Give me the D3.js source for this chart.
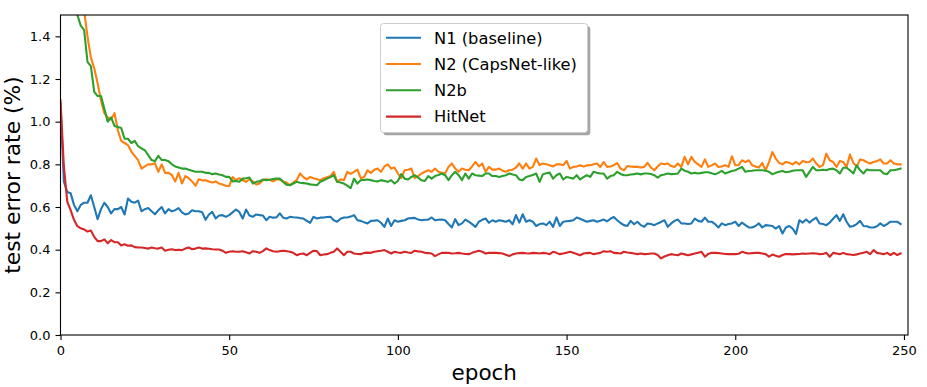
<!DOCTYPE html>
<html>
<head>
<meta charset="utf-8">
<script src="https://cdn.jsdelivr.net/npm/d3@7"></script>
<style>
  html, body { margin: 0; padding: 0; background: #fff; }
  svg { display: block; font-family: "DejaVu Sans", sans-serif; }
  .tick text { font-size: 13px; fill: #000; }
  .tick line, .domain { stroke: #000; }
</style>
</head>
<body>
<div id="chart"></div>
<script>
// Test error rate per epoch.
const xTicks = [0, 50, 100, 150, 200, 250];
const yTicks = [0.0, 0.2, 0.4, 0.6, 0.8, 1.0, 1.2, 1.4];

const n1 = [
  1.08, 0.72, 0.67, 0.665, 0.61, 0.58, 0.61, 0.62, 0.62, 0.655,
  0.60, 0.543, 0.59, 0.62, 0.60, 0.57, 0.59, 0.59, 0.60, 0.565,
  0.64, 0.625, 0.62, 0.63, 0.58, 0.59, 0.595, 0.58, 0.566, 0.585,
  0.60, 0.57, 0.59, 0.58, 0.585, 0.595, 0.575, 0.565, 0.57, 0.585,
  0.58, 0.58, 0.575, 0.54, 0.565, 0.577, 0.546, 0.56, 0.562, 0.554,
  0.562, 0.575, 0.588, 0.577, 0.546, 0.588, 0.56, 0.554, 0.565, 0.562,
  0.56, 0.538, 0.554, 0.55, 0.551, 0.57, 0.55, 0.546, 0.554, 0.552,
  0.551, 0.548, 0.546, 0.535, 0.526, 0.554, 0.546, 0.55, 0.551, 0.553,
  0.554, 0.538, 0.531, 0.545, 0.551, 0.551, 0.555, 0.562, 0.538, 0.535,
  0.528, 0.523, 0.535, 0.536, 0.538, 0.526, 0.507, 0.546, 0.511, 0.538,
  0.531, 0.535, 0.538, 0.546, 0.548, 0.549, 0.541, 0.538, 0.54, 0.541,
  0.551, 0.538, 0.54, 0.541, 0.538, 0.52, 0.504, 0.543, 0.515, 0.523,
  0.541, 0.531, 0.52, 0.507, 0.531, 0.54, 0.546, 0.526, 0.538, 0.531,
  0.538, 0.535, 0.531, 0.538, 0.519, 0.562, 0.527, 0.566, 0.531, 0.538,
  0.531, 0.511, 0.52, 0.523, 0.515, 0.531, 0.507, 0.551, 0.511, 0.531,
  0.533, 0.535, 0.538, 0.551, 0.545, 0.538, 0.531, 0.535, 0.538, 0.531,
  0.536, 0.541, 0.533, 0.545, 0.553, 0.538, 0.525, 0.515, 0.511, 0.535,
  0.519, 0.531, 0.515, 0.507, 0.523, 0.52, 0.515, 0.523, 0.53, 0.538,
  0.507, 0.523, 0.535, 0.541, 0.523, 0.523, 0.52, 0.523, 0.546, 0.535,
  0.531, 0.55, 0.531, 0.531, 0.52, 0.504, 0.523, 0.515, 0.52, 0.523,
  0.531, 0.511, 0.527, 0.515, 0.504, 0.504, 0.511, 0.523, 0.504, 0.515,
  0.513, 0.511, 0.499, 0.511, 0.476, 0.504, 0.511, 0.499, 0.474, 0.538,
  0.527, 0.541, 0.527, 0.54, 0.55, 0.523, 0.52, 0.515, 0.527, 0.545,
  0.562, 0.535, 0.566, 0.531, 0.507, 0.511, 0.52, 0.535, 0.511, 0.51,
  0.504, 0.504, 0.51, 0.523, 0.511, 0.52, 0.531, 0.531, 0.531, 0.52,
];

const n2 = [
  3.2, 2.4, 2.0, 1.85, 1.75, 1.68, 1.60, 1.52, 1.40, 1.30,
  1.25, 1.18, 1.10, 1.04, 1.02, 1.01, 1.04, 0.96, 0.91, 0.90,
  0.89, 0.86, 0.84, 0.82, 0.78, 0.79, 0.80, 0.80, 0.805, 0.765,
  0.80, 0.76, 0.76, 0.75, 0.72, 0.76, 0.71, 0.745, 0.735, 0.72,
  0.70, 0.73, 0.725, 0.725, 0.72, 0.715, 0.72, 0.71, 0.705, 0.70,
  0.698, 0.74, 0.726, 0.735, 0.725, 0.718, 0.73, 0.72, 0.705, 0.71,
  0.725, 0.73, 0.728, 0.72, 0.73, 0.728, 0.72, 0.715, 0.702, 0.715,
  0.726, 0.757, 0.74, 0.729, 0.741, 0.735, 0.73, 0.725, 0.735, 0.74,
  0.745, 0.765, 0.718, 0.73, 0.726, 0.765, 0.755, 0.765, 0.775, 0.735,
  0.741, 0.772, 0.76, 0.775, 0.78, 0.765, 0.79, 0.80, 0.78, 0.785,
  0.757, 0.735, 0.772, 0.775, 0.78, 0.735, 0.745, 0.757, 0.765, 0.772,
  0.765, 0.78, 0.765, 0.76, 0.757, 0.788, 0.804, 0.78, 0.765, 0.78,
  0.775, 0.772, 0.79, 0.811, 0.79, 0.804, 0.765, 0.788, 0.775, 0.775,
  0.78, 0.77, 0.765, 0.772, 0.775, 0.785, 0.804, 0.78, 0.804, 0.78,
  0.788, 0.827, 0.796, 0.804, 0.80, 0.796, 0.79, 0.80, 0.80, 0.796,
  0.816, 0.78, 0.788, 0.79, 0.796, 0.79, 0.795, 0.796, 0.80, 0.804,
  0.788, 0.811, 0.788, 0.79, 0.796, 0.806, 0.78, 0.772, 0.792, 0.79,
  0.788, 0.788, 0.785, 0.788, 0.807, 0.785, 0.772, 0.79, 0.804, 0.80,
  0.804, 0.792, 0.788, 0.804, 0.788, 0.835, 0.80, 0.835, 0.811, 0.80,
  0.788, 0.823, 0.788, 0.795, 0.804, 0.788, 0.79, 0.796, 0.788, 0.838,
  0.796, 0.796, 0.819, 0.81, 0.819, 0.796, 0.79, 0.785, 0.807, 0.772,
  0.81, 0.858, 0.827, 0.807, 0.80, 0.811, 0.807, 0.80, 0.811, 0.80,
  0.816, 0.81, 0.811, 0.827, 0.804, 0.788, 0.796, 0.85, 0.819, 0.811,
  0.788, 0.816, 0.811, 0.788, 0.846, 0.807, 0.788, 0.823, 0.819, 0.81,
  0.804, 0.811, 0.815, 0.823, 0.804, 0.804, 0.819, 0.804, 0.80, 0.80,
];

const n2b = [
  3.0, 2.4, 2.0, 1.8, 1.62, 1.50, 1.45, 1.43, 1.28, 1.26,
  1.14, 1.12, 1.12, 1.06, 1.00, 1.02, 0.98, 0.975, 0.97, 0.92,
  0.92, 0.90, 0.91, 0.885, 0.875, 0.866, 0.843, 0.82, 0.815, 0.84,
  0.82, 0.82, 0.815, 0.80, 0.79, 0.785, 0.78, 0.78, 0.775, 0.77,
  0.765, 0.765, 0.765, 0.76, 0.76, 0.754, 0.757, 0.752, 0.749, 0.741,
  0.741, 0.72, 0.722, 0.718, 0.733, 0.735, 0.738, 0.71, 0.718, 0.72,
  0.729, 0.726, 0.728, 0.731, 0.733, 0.733, 0.718, 0.705, 0.702, 0.71,
  0.718, 0.714, 0.712, 0.71, 0.706, 0.704, 0.702, 0.718, 0.725, 0.733,
  0.74, 0.749, 0.718, 0.715, 0.71, 0.70, 0.688, 0.733, 0.71, 0.726,
  0.727, 0.729, 0.726, 0.722, 0.72, 0.726, 0.722, 0.718, 0.726, 0.71,
  0.722, 0.754, 0.733, 0.729, 0.741, 0.749, 0.738, 0.725, 0.722, 0.745,
  0.733, 0.745, 0.75, 0.757, 0.749, 0.726, 0.749, 0.765, 0.749, 0.726,
  0.757, 0.733, 0.757, 0.749, 0.747, 0.745, 0.757, 0.757, 0.745, 0.745,
  0.741, 0.745, 0.749, 0.757, 0.752, 0.749, 0.729, 0.726, 0.741, 0.745,
  0.75, 0.757, 0.718, 0.754, 0.758, 0.761, 0.733, 0.749, 0.757, 0.729,
  0.741, 0.737, 0.733, 0.749, 0.729, 0.74, 0.749, 0.741, 0.765, 0.76,
  0.757, 0.757, 0.733, 0.745, 0.749, 0.765, 0.755, 0.749, 0.749, 0.752,
  0.754, 0.757, 0.753, 0.757, 0.757, 0.755, 0.749, 0.738, 0.749, 0.752,
  0.757, 0.754, 0.755, 0.757, 0.78, 0.77, 0.765, 0.757, 0.761, 0.757,
  0.76, 0.763, 0.763, 0.758, 0.754, 0.76, 0.769, 0.757, 0.763, 0.769,
  0.772, 0.78, 0.788, 0.765, 0.769, 0.77, 0.772, 0.772, 0.772, 0.77,
  0.765, 0.754, 0.76, 0.765, 0.769, 0.763, 0.765, 0.77, 0.772, 0.772,
  0.772, 0.741, 0.765, 0.788, 0.772, 0.772, 0.775, 0.772, 0.778, 0.78,
  0.772, 0.757, 0.784, 0.784, 0.772, 0.757, 0.795, 0.772, 0.757, 0.776,
  0.772, 0.772, 0.772, 0.772, 0.757, 0.754, 0.772, 0.772, 0.776, 0.78,
];

const hitnet = [
  1.10, 0.79, 0.625, 0.585, 0.54, 0.51, 0.50, 0.495, 0.485, 0.49,
  0.46, 0.44, 0.44, 0.448, 0.43, 0.445, 0.435, 0.435, 0.42, 0.425,
  0.418, 0.42, 0.412, 0.41, 0.41, 0.408, 0.405, 0.41, 0.407, 0.405,
  0.41, 0.395, 0.40, 0.402, 0.398, 0.40, 0.398, 0.405, 0.41, 0.402,
  0.405, 0.41, 0.405, 0.406, 0.404, 0.402, 0.401, 0.401, 0.395, 0.385,
  0.39, 0.393, 0.39, 0.39, 0.393, 0.388, 0.382, 0.393, 0.39, 0.385,
  0.393, 0.406, 0.398, 0.393, 0.39, 0.393, 0.395, 0.393, 0.39, 0.385,
  0.374, 0.38, 0.382, 0.374, 0.385, 0.395, 0.393, 0.374, 0.377, 0.379,
  0.385, 0.39, 0.406, 0.39, 0.374, 0.39, 0.39, 0.382, 0.38, 0.379,
  0.385, 0.386, 0.385, 0.39, 0.393, 0.395, 0.398, 0.39, 0.382, 0.39,
  0.387, 0.385, 0.39, 0.387, 0.385, 0.395, 0.392, 0.39, 0.385, 0.384,
  0.382, 0.37, 0.378, 0.385, 0.385, 0.385, 0.382, 0.383, 0.385, 0.382,
  0.38, 0.379, 0.385, 0.39, 0.395, 0.39, 0.382, 0.385, 0.385, 0.385,
  0.384, 0.382, 0.376, 0.37, 0.378, 0.382, 0.384, 0.385, 0.383, 0.382,
  0.385, 0.384, 0.382, 0.385, 0.383, 0.379, 0.39, 0.385, 0.379, 0.382,
  0.386, 0.39, 0.385, 0.38, 0.374, 0.382, 0.384, 0.385, 0.379, 0.382,
  0.385, 0.393, 0.39, 0.393, 0.385, 0.384, 0.382, 0.39, 0.387, 0.385,
  0.382, 0.379, 0.382, 0.379, 0.38, 0.382, 0.382, 0.375, 0.359, 0.368,
  0.374, 0.379, 0.376, 0.374, 0.382, 0.378, 0.374, 0.378, 0.382, 0.386,
  0.39, 0.367, 0.38, 0.385, 0.385, 0.384, 0.382, 0.38, 0.379, 0.379,
  0.379, 0.381, 0.39, 0.385, 0.382, 0.384, 0.385, 0.385, 0.382, 0.379,
  0.367, 0.377, 0.372, 0.367, 0.375, 0.38, 0.379, 0.378, 0.379, 0.38,
  0.382, 0.381, 0.382, 0.383, 0.382, 0.379, 0.38, 0.385, 0.367, 0.385,
  0.382, 0.379, 0.385, 0.379, 0.377, 0.375, 0.378, 0.382, 0.386, 0.39,
  0.379, 0.398, 0.385, 0.382, 0.379, 0.385, 0.375, 0.385, 0.375, 0.382,
];

const seriesNames = ["N1 (baseline)", "N2 (CapsNet-like)", "N2b", "HitNet"];
const seriesValues = [n1, n2, n2b, hitnet];
const COLORS = ["#1f77b4", "#ff7f0e", "#2ca02c", "#d62728"];

const W = 927, H = 387;
const M = { top: 15, right: 19, bottom: 52, left: 60.5 };
const IW = W - M.left - M.right, IH = H - M.top - M.bottom;

const svg = d3.select("#chart").append("svg")
  .attr("width", W).attr("height", H);

const x = d3.scaleLinear().domain([0, 251.2]).range([M.left, M.left + IW]);
const y = d3.scaleLinear().domain([0, 1.5]).range([M.top + IH, M.top]);

svg.append("clipPath").attr("id", "plot-clip")
  .append("rect").attr("x", M.left).attr("y", M.top)
  .attr("width", IW).attr("height", IH);

// lines, drawn in legend order so red ends up on top like matplotlib
const line = d3.line().x((_, i) => x(i)).y(d => y(d));
const lines = svg.append("g").attr("clip-path", "url(#plot-clip)");
seriesValues.forEach((vals, si) => {
  lines.append("path")
    .attr("d", line(vals))
    .attr("fill", "none")
    .attr("stroke", COLORS[si])
    .attr("stroke-width", 2.1)
    .attr("stroke-linejoin", "round")
    .attr("stroke-linecap", "square");
});

// axes + frame
svg.append("g")
  .attr("transform", `translate(0,${M.top + IH})`)
  .call(d3.axisBottom(x).tickValues(xTicks).tickSize(5).tickPadding(6).tickSizeOuter(0))
  .call(g => g.select(".domain").remove());
svg.append("g")
  .attr("transform", `translate(${M.left},0)`)
  .call(d3.axisLeft(y).tickValues(yTicks).tickFormat(d3.format(".1f"))
    .tickSize(5).tickPadding(5).tickSizeOuter(0))
  .call(g => g.select(".domain").remove());
svg.selectAll(".tick line").attr("stroke-width", 1.1);
svg.selectAll(".tick text").attr("font-family", "DejaVu Sans").attr("font-size", 13);

svg.append("rect")
  .attr("x", M.left).attr("y", M.top).attr("width", IW).attr("height", IH)
  .attr("fill", "none").attr("stroke", "#000").attr("stroke-width", 1.1);

// axis titles
svg.append("text")
  .attr("x", M.left + IW / 2).attr("y", 380)
  .attr("text-anchor", "middle").attr("font-size", 21.5)
  .text("epoch");
svg.append("text")
  .attr("transform", `translate(20,${M.top + IH / 2}) rotate(-90)`)
  .attr("text-anchor", "middle").attr("font-size", 21.8)
  .text("test error rate (%)");

// legend with drop shadow
const lg = { x: 380.5, y: 23.5, w: 207, h: 109, row: 26.3 };
const legend = svg.append("g");
legend.append("rect")
  .attr("x", lg.x + 2.8).attr("y", lg.y + 2.8).attr("width", lg.w).attr("height", lg.h)
  .attr("rx", 3).attr("fill", "#4d4d4d").attr("opacity", 0.5);
legend.append("rect")
  .attr("x", lg.x).attr("y", lg.y).attr("width", lg.w).attr("height", lg.h)
  .attr("rx", 3).attr("fill", "#fff").attr("stroke", "#cccccc").attr("stroke-width", 1);
seriesNames.forEach((name, i) => {
  const ly = 37.7 + i * lg.row;
  legend.append("line")
    .attr("x1", 386).attr("x2", 421).attr("y1", ly).attr("y2", ly)
    .attr("stroke", COLORS[i]).attr("stroke-width", 2.1);
  legend.append("text")
    .attr("x", 434).attr("y", ly).attr("dy", "0.36em")
    .attr("font-size", 16.3).text(name);
});
</script>
</body>
</html>
